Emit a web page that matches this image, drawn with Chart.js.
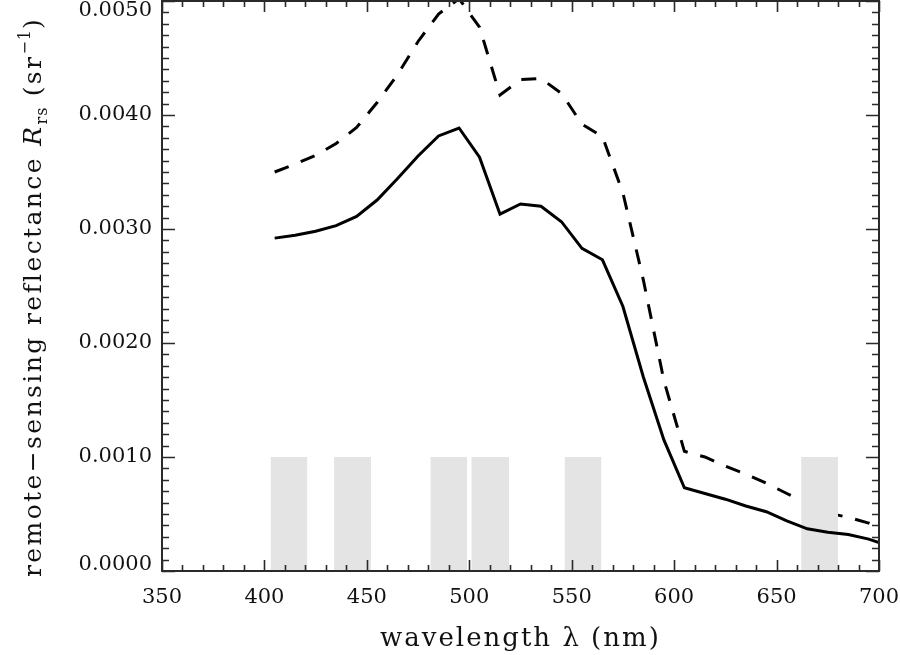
<!DOCTYPE html>
<html>
<head>
<meta charset="utf-8">
<script src="https://cdn.jsdelivr.net/npm/chart.js@4.4.1/dist/chart.umd.min.js"></script>
<style>
  html, body { margin: 0; padding: 0; background: #ffffff; }
  #wrap { position: relative; width: 900px; height: 655px; }
</style>
</head>
<body>
<div id="wrap"><canvas id="c"></canvas></div>
<script>
// ---- data ----
const wavelengths = [405,415,425,435,445,455,465,475,485,495,505,515,525,535,545,555,565,575,585,595,605,615,625,635,645,655,665,675,685,695,700];
const rrsSolid = [0.00292,0.002945,0.00298,0.00303,0.00311,0.003254,0.003443,0.00364,0.003816,0.003886,0.00363,0.00313,0.00322,0.00320,0.003064,0.00283,0.00273,0.00232,0.00170,0.00115,0.00073,0.00068,0.00063,0.00057,0.00052,0.00044,0.00037,0.00034,0.00032,0.00028,0.00025];
const rrsDashed = [0.00350,0.00357,0.003645,0.00375,0.00389,0.00411,0.004355,0.004645,0.004886,0.00502,0.00477,0.004175,0.00431,0.00432,0.00419,0.00392,0.00381,0.003316,0.00255,0.00167,0.00105,0.00100,0.00092,0.00085,0.00077,0.00068,0.00059,0.00051,0.00047,0.00042,0.00038];
const bandLow  = [403, 434, 481, 501, 546.5, 662];
const bandHigh = [421, 452, 499, 519.5, 564.5, 680];
const bandTop = 0.0010;
const xTickValues = [350,400,450,500,550,600,650,700];
const xTickLabels = ['350','400','450','500','550','600','650','700'];
const yTickValues = [0,0.001,0.002,0.003,0.004,0.005];
const yTickLabels = ['0.0000','0.0010','0.0020','0.0030','0.0040','0.0050'];
const xTitle = 'wavelength \u03bb (nm)';
const yTitleMain = 'remote\u2212sensing reflectance ';
const yTitleSym = 'R';
const yTitleSub = 'rs';
const yTitleUnit = ' (sr';
const yTitleSup = '\u22121';
const yTitleEnd = ')';

// ---- build datasets ----
const toPts = (xs, ys) => xs.map((x, i) => ({x: x, y: ys[i]}));
const datasets = [];
datasets.push({
  label: 'dashed', data: toPts(wavelengths, rrsDashed), showLine: true,
  borderColor: '#000', borderWidth: 3, borderDash: [15, 13], pointRadius: 0,
  tension: 0, fill: false, order: 2
});
bandLow.forEach((lo, i) => {
  datasets.push({
    label: 'band' + i,
    data: [{x: lo, y: 0}, {x: lo, y: bandTop}, {x: bandHigh[i], y: bandTop}, {x: bandHigh[i], y: 0}],
    showLine: true, borderWidth: 0, borderColor: 'rgba(0,0,0,0)',
    backgroundColor: '#e4e4e4', fill: 'origin', pointRadius: 0, tension: 0, order: 1
  });
});
datasets.push({
  label: 'solid', data: toPts(wavelengths, rrsSolid), showLine: true,
  borderColor: '#000', borderWidth: 3, pointRadius: 0, tension: 0, fill: false, order: 0
});

const FONT = '"DejaVu Serif", serif';

const deco = {
  id: 'deco',
  beforeDraw(chart) {
    const ctx = chart.ctx;
    ctx.save();
    ctx.fillStyle = '#fff';
    ctx.fillRect(0, 0, chart.width, chart.height);
    ctx.restore();
  },
  afterDraw(chart) {
    const ctx = chart.ctx;
    const a = chart.chartArea;
    const xs = chart.scales.x, ys = chart.scales.y;
    ctx.save();
    ctx.strokeStyle = '#2a2a2a';
    ctx.lineWidth = 2;
    // frame
    ctx.strokeRect(a.left, a.top, a.right - a.left, a.bottom - a.top);
    ctx.lineWidth = 1.6;
    ctx.beginPath();
    // x ticks (bottom & top), minor every 10
    for (let v = 350; v <= 700; v += 10) {
      const px = Math.round(xs.getPixelForValue(v)) + 0.5;
      const major = (v % 50 === 0);
      const len = major ? 11 : 6;
      ctx.moveTo(px, a.bottom); ctx.lineTo(px, a.bottom - len);
      ctx.moveTo(px, a.top); ctx.lineTo(px, a.top + len);
    }
    // y ticks (left & right), minor every 0.0001
    for (let k = 0; k <= 50; k++) {
      const v = k * 0.0001;
      const py = Math.round(ys.getPixelForValue(v)) + 0.5;
      const major = (k % 10 === 0);
      const len = major ? 13 : 7;
      ctx.moveTo(a.left, py); ctx.lineTo(a.left + len, py);
      ctx.moveTo(a.right, py); ctx.lineTo(a.right - len, py);
    }
    ctx.stroke();

    // tick labels
    ctx.fillStyle = '#111';
    ctx.font = '21px ' + FONT;
    ctx.textAlign = 'center';
    ctx.textBaseline = 'middle';
    xTickValues.forEach((v, i) => {
      ctx.fillText(xTickLabels[i], xs.getPixelForValue(v), 598);
    });
    ctx.textAlign = 'right';
    yTickValues.forEach((v, i) => {
      let py = ys.getPixelForValue(v);
      py = Math.min(Math.max(py, 11), 565);
      ctx.fillText(yTickLabels[i], a.left - 10, py);
    });

    // x title
    ctx.textAlign = 'left';
    ctx.textBaseline = 'alphabetic';
    ctx.font = '26px ' + FONT;
    try { ctx.letterSpacing = '2px'; } catch (e) {}
    ctx.fillText(xTitle, 380, 646);

    // y title (rotated)
    ctx.translate(41, 577);
    ctx.rotate(-Math.PI / 2);
    let cx = 0;
    const piece = (txt, font, dy) => {
      ctx.font = font;
      ctx.fillText(txt, cx, dy);
      cx += ctx.measureText(txt).width;
    };
    try { ctx.letterSpacing = '2.4px'; } catch (e) {}
    piece(yTitleMain, '25px ' + FONT, 0);
    piece(yTitleSym, 'italic 25px ' + FONT, 0);
    try { ctx.letterSpacing = '1px'; } catch (e) {}
    piece(yTitleSub, '16px ' + FONT, 6);
    try { ctx.letterSpacing = '2.4px'; } catch (e) {}
    piece(yTitleUnit, '25px ' + FONT, 0);
    try { ctx.letterSpacing = '1px'; } catch (e) {}
    piece(yTitleSup, '16px ' + FONT, -11);
    try { ctx.letterSpacing = '2.4px'; } catch (e) {}
    piece(yTitleEnd, '25px ' + FONT, 0);
    ctx.restore();
  }
};

new Chart(document.getElementById('c'), {
  type: 'scatter',
  data: { datasets: datasets },
  options: {
    responsive: true,
    maintainAspectRatio: false,
    animation: false,
    events: [],
    layout: { padding: { left: 162, right: 21, top: 1, bottom: 84 } },
    plugins: { legend: { display: false }, tooltip: { enabled: false } },
    scales: {
      x: { type: 'linear', min: 350, max: 700, display: false },
      y: { type: 'linear', min: 0, max: 0.005, display: false }
    }
  },
  plugins: [deco]
});
</script>
</body>
</html>
